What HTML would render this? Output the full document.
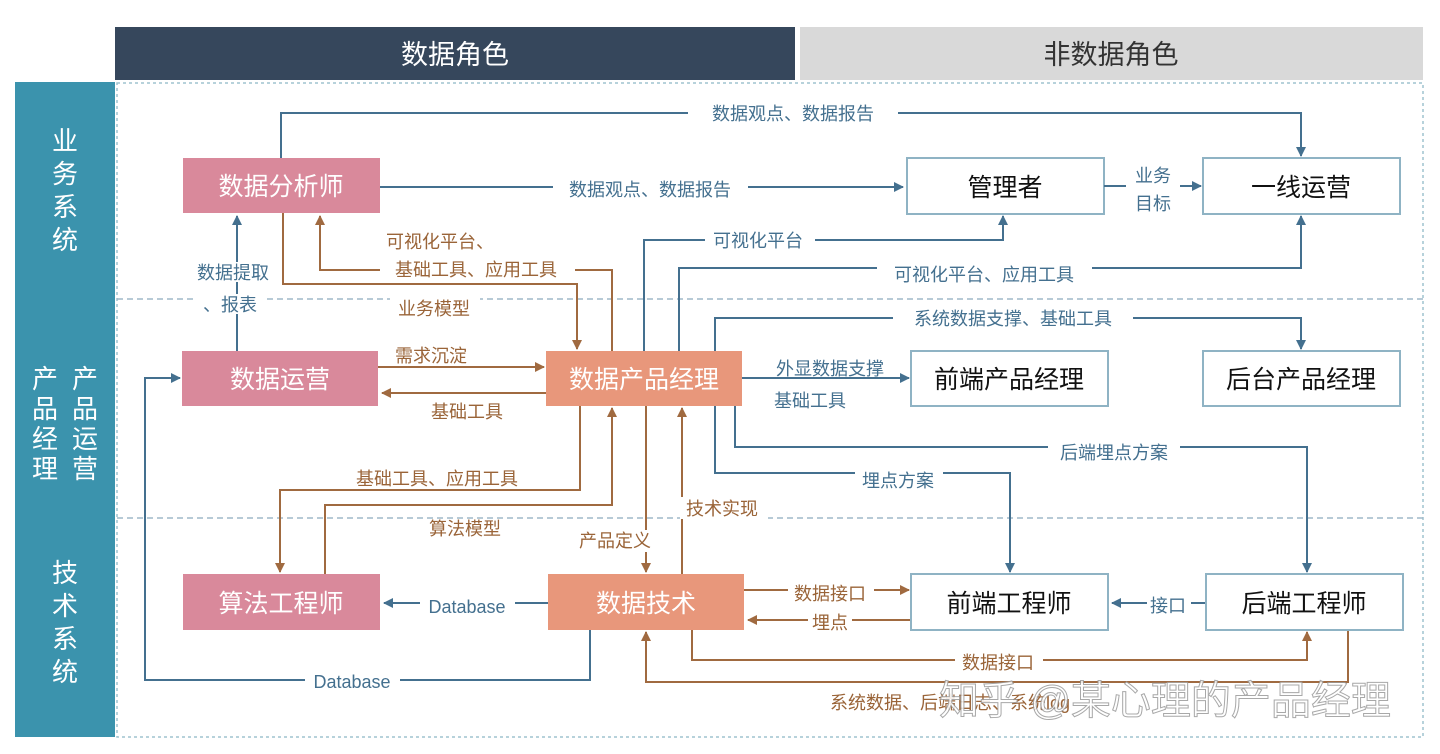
<!DOCTYPE html>
<html><head><meta charset="utf-8"><style>
body{margin:0;background:#fff;}
svg{display:block;font-family:"Liberation Sans","Noto Sans CJK SC",sans-serif;}
.l{font-size:18px;}
.b{fill:#44708f}.o{fill:#9a6438}
</style></head><body>
<svg width="1440" height="754" viewBox="0 0 1440 754">
<defs>
<marker id="ab" markerWidth="10" markerHeight="10" refX="9" refY="5" orient="auto" markerUnits="userSpaceOnUse"><path d="M0,0 L10,5 L0,10 z" fill="#44708f"/></marker>
<marker id="ao" markerWidth="10" markerHeight="10" refX="9" refY="5" orient="auto" markerUnits="userSpaceOnUse"><path d="M0,0 L10,5 L0,10 z" fill="#a06a40"/></marker>
</defs>
<rect x="115" y="27" width="680" height="53" fill="#36475c"/>
<text x="455" y="64" font-size="27" fill="#fff" text-anchor="middle">数据角色</text>
<rect x="800" y="27" width="623" height="53" fill="#d9d9d9"/>
<text x="1111" y="64" font-size="27" fill="#333" text-anchor="middle">非数据角色</text>
<rect x="15" y="82" width="100" height="655" fill="#3b93ad"/>
<g font-size="26" fill="#fff" text-anchor="middle">
<text x="65" y="150">业</text><text x="65" y="183">务</text><text x="65" y="216">系</text><text x="65" y="249">统</text>
<text x="45" y="388">产</text><text x="45" y="418">品</text><text x="45" y="448">经</text><text x="45" y="478">理</text>
<text x="85" y="388">产</text><text x="85" y="418">品</text><text x="85" y="448">运</text><text x="85" y="478">营</text>
<text x="65" y="582">技</text><text x="65" y="615">术</text><text x="65" y="648">系</text><text x="65" y="681">统</text>
</g>
<rect x="117" y="83" width="1306" height="654" fill="none" stroke="#9fc3cf" stroke-width="1.5" stroke-dasharray="3,3"/>
<line x1="117" y1="299" x2="1423" y2="299" stroke="#9fb8c8" stroke-width="1.5" stroke-dasharray="6,4"/>
<line x1="117" y1="518" x2="1423" y2="518" stroke="#9fb8c8" stroke-width="1.5" stroke-dasharray="6,4"/>

<g fill="none" stroke-width="2">
<g stroke="#44708f" marker-end="url(#ab)">
<path d="M281,158 V113 H1301 V156"/>
<path d="M380,187 H903"/>
<path d="M237,351 V216"/>
<path d="M644,351 V240 H1003 V216"/>
<path d="M679,351 V268 H1301 V216"/>
<path d="M742,378 H909"/>
<path d="M715,351 V318 H1301 V349"/>
<path d="M715,406 V473 H1010 V572"/>
<path d="M735,406 V447 H1307 V572"/>
<path d="M1206,603 H1112"/>
<path d="M548,603 H384"/>
<path d="M590,630 V680 H145 V378 H180"/>
</g>
<g stroke="#a06a40" marker-end="url(#ao)">
<path d="M612,351 V270 H320 V216"/>
<path d="M283,213 V284 H577 V349"/>
<path d="M378,367 H544"/>
<path d="M546,393 H382"/>
<path d="M580,406 V490 H280 V572"/>
<path d="M325,574 V505 H612 V408"/>
<path d="M682,574 V408"/>
<path d="M646,406 V572"/>
<path d="M744,590 H909"/>
<path d="M911,620 H748"/>
<path d="M692,630 V660 H1307 V632"/>
<path d="M1348,630 V682 H646 V632"/>
</g>
</g>

<g class="l" text-anchor="middle">
<g class="b">
<rect x="688" y="102" width="210" height="22" fill="#fff"/><text x="793" y="120">数据观点、数据报告</text>
<rect x="553" y="178" width="195" height="22" fill="#fff"/><text x="650" y="196">数据观点、数据报告</text>
<rect x="195" y="262" width="80" height="20" fill="#fff"/><text x="233" y="279">数据提取</text>
<rect x="195" y="294" width="70" height="20" fill="#fff"/><text x="230" y="311">、报表</text>
<rect x="705" y="230" width="110" height="20" fill="#fff"/><text x="758" y="247">可视化平台</text>
<rect x="877" y="263" width="215" height="22" fill="#fff"/><text x="984" y="281">可视化平台、应用工具</text>
<rect x="893" y="307" width="240" height="22" fill="#fff"/><text x="1013" y="325">系统数据支撑、基础工具</text>
<text x="830" y="375">外显数据支撑</text><text x="810" y="407">基础工具</text>
<rect x="855" y="469" width="88" height="22" fill="#fff"/><text x="898" y="487">埋点方案</text>
<rect x="1048" y="441" width="132" height="22" fill="#fff"/><text x="1114" y="459">后端埋点方案</text>
<rect x="1147" y="594" width="44" height="22" fill="#fff"/><text x="1168" y="612">接口</text>
<rect x="420" y="595" width="95" height="22" fill="#fff"/><text x="467" y="613">Database</text>
<rect x="305" y="670" width="95" height="22" fill="#fff"/><text x="352" y="688">Database</text>
</g>
<g class="o">
<text x="440" y="248">可视化平台、</text>
<rect x="380" y="258" width="195" height="22" fill="#fff"/><text x="476" y="276">基础工具、应用工具</text>
<rect x="390" y="297" width="90" height="22" fill="#fff"/><text x="434" y="315">业务模型</text>
<rect x="397" y="344" width="68" height="22" fill="#fff"/><text x="431" y="362">需求沉淀</text>
<text x="467" y="418">基础工具</text>
<rect x="340" y="467" width="196" height="22" fill="#fff"/><text x="437" y="485">基础工具、应用工具</text>
<text x="465" y="535">算法模型</text>
<rect x="680" y="497" width="88" height="22" fill="#fff"/><text x="722" y="515">技术实现</text>
<rect x="570" y="530" width="92" height="22" fill="#fff"/><text x="615" y="547">产品定义</text>
<rect x="788" y="582" width="86" height="22" fill="#fff"/><text x="830" y="600">数据接口</text>
<rect x="808" y="612" width="44" height="22" fill="#fff"/><text x="830" y="629">埋点</text>
<rect x="955" y="651" width="88" height="22" fill="#fff"/><text x="998" y="669">数据接口</text>
<text x="950" y="709">系统数据、后端日志、系统log</text>
</g>
</g>

<g font-size="25" text-anchor="middle">
<rect x="183" y="158" width="197" height="55" fill="#d9899b"/><text x="281" y="195" fill="#fff">数据分析师</text>
<rect x="182" y="351" width="196" height="55" fill="#d9899b"/><text x="280" y="388" fill="#fff">数据运营</text>
<rect x="183" y="574" width="197" height="56" fill="#d9899b"/><text x="281" y="612" fill="#fff">算法工程师</text>
<rect x="546" y="351" width="196" height="55" fill="#e8977b"/><text x="644" y="388" fill="#fff">数据产品经理</text>
<rect x="548" y="574" width="196" height="56" fill="#e8977b"/><text x="646" y="612" fill="#fff">数据技术</text>
<g fill="#fff" stroke="#8fb3c4" stroke-width="2">
<rect x="907" y="158" width="197" height="56"/><rect x="1203" y="158" width="197" height="56"/>
<rect x="911" y="351" width="197" height="55"/><rect x="1203" y="351" width="197" height="55"/>
<rect x="911" y="574" width="197" height="56"/><rect x="1206" y="574" width="197" height="56"/>
</g>
<g fill="#111">
<text x="1005" y="196">管理者</text><text x="1301" y="196">一线运营</text>
<text x="1009" y="388">前端产品经理</text><text x="1301" y="388">后台产品经理</text>
<text x="1009" y="612">前端工程师</text><text x="1304" y="612">后端工程师</text>
</g>
</g>
<text x="1153" y="182" class="l b" text-anchor="middle">业务</text>
<text x="1153" y="210" class="l b" text-anchor="middle">目标</text>
<path d="M1104,186 H1126 M1180,186 H1201" stroke="#44708f" stroke-width="2" marker-end="url(#ab)"/>
<text x="1165" y="714" font-size="40" fill="#fff" stroke="#999" stroke-width="1" text-anchor="middle" opacity="0.85">知乎 @某心理的产品经理</text>
</svg>
</body></html>
